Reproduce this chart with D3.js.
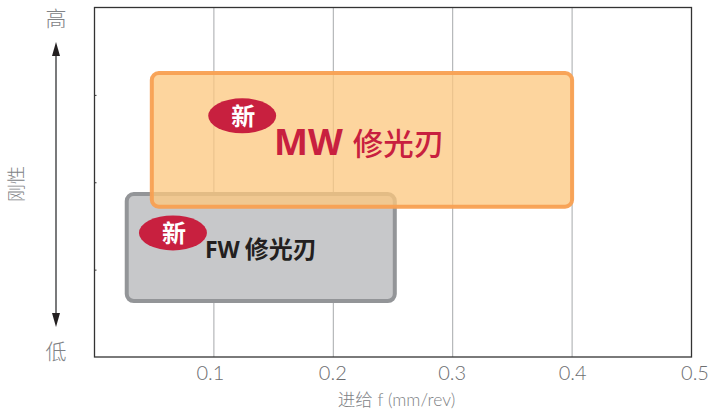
<!DOCTYPE html>
<html>
<head>
<meta charset="utf-8">
<script src="https://cdn.jsdelivr.net/npm/d3@7/dist/d3.min.js"></script>
<style>
html,body{margin:0;padding:0;background:#fff;overflow:hidden}
svg{display:block}
text{font-family:Lato,"Noto Sans CJK SC",sans-serif}
</style>
</head>
<body>
<svg id="chart" width="708" height="415"></svg>
<script>
// Feed ranges and relative rigidity of the two cutting-edge types
const feedTicks = [0.1, 0.2, 0.3, 0.4, 0.5];
const rigidityTicks = [1, 2, 3];
const edgeNames = ["MW 修光刃", "FW 修光刃"];
const feedStart = [0.048, 0.027];
const feedEnd = [0.4, 0.2515];
const rigidityLow = [1.72, 0.64];
const rigidityHigh = [3.25, 1.865];
const edgeFill = ["rgba(252,200,128,0.76)", "#c7c8ca"];
const edgeStroke = ["rgba(248,160,82,0.95)", "#939598"];

const svg = d3.select("#chart");
const x = d3.scaleLinear().domain([0, 0.5]).range([94.5, 691.5]);
const y = d3.scaleLinear().domain([0, 4]).range([357, 7.5]);

// Vertical gridlines, painted under the ranges
svg.append("g").selectAll("line").data(feedTicks.slice(0, 4)).join("line")
  .attr("x1", d => x(d)).attr("x2", d => x(d))
  .attr("y1", y(4)).attr("y2", y(0))
  .attr("stroke", "#a7a9ac").attr("stroke-width", 1);

// Frame and axes
svg.append("rect")
  .attr("x", x(0)).attr("y", y(4))
  .attr("width", x(0.5) - x(0)).attr("height", y(0) - y(4))
  .attr("fill", "none").attr("stroke", "#333").attr("stroke-width", 1.3);

// Tick labels sit slightly off their ticks, spreading outward toward the right edge
const labelNudge = [-4, -1, -1, 0, 3];
const xAxis = d3.axisBottom(x).tickValues(feedTicks).tickSize(0).tickPadding(0).tickFormat(d3.format(".1f"));
const gx = svg.append("g").attr("transform", `translate(0,${y(0)})`).call(xAxis);
gx.select(".domain").remove();
gx.selectAll("text")
  .attr("dx", (d, i) => labelNudge[i]).attr("y", 9).attr("dy", "0.71em")
  .attr("font-size", 20).attr("font-weight", 300).attr("fill", "#6d6e71")
  .style("font-family", "Lato,sans-serif");

const yAxis = d3.axisLeft(y).tickValues(rigidityTicks).tickSize(-2).tickFormat("");
const gy = svg.append("g").attr("transform", `translate(${x(0)},0)`).call(yAxis);
gy.select(".domain").remove();
gy.selectAll("line").attr("stroke", "#333");

// Range boxes; the grey one sits underneath
const order = [1, 0];
svg.append("g").selectAll("rect").data(order).join("rect")
  .attr("x", i => x(feedStart[i]))
  .attr("y", i => y(rigidityHigh[i]))
  .attr("width", i => x(feedEnd[i]) - x(feedStart[i]))
  .attr("height", i => y(rigidityLow[i]) - y(rigidityHigh[i]))
  .attr("rx", 7).attr("ry", 7)
  .attr("fill", i => edgeFill[i])
  .attr("stroke", i => edgeStroke[i])
  .attr("stroke-width", 4);

// "New" badges
const badgeFeed = [0.1237, 0.0657];
const badgeRigidity = [2.76, 1.42];
const badges = svg.append("g").selectAll("g").data([0, 1]).join("g")
  .attr("transform", i => `translate(${x(badgeFeed[i])},${y(badgeRigidity[i])})`);
badges.append("ellipse").attr("rx", 34).attr("ry", 17.5).attr("fill", "#c8203f");
badges.append("text").text("新")
  .attr("text-anchor", "middle").attr("x", 1).attr("y", 9)
  .attr("font-size", 24).attr("font-weight", 700).attr("fill", "#fff");

// Edge names
const mw = svg.append("text").attr("x", 274).attr("y", 155).attr("fill", "#c8203f");
mw.append("tspan").text(edgeNames[0].split(" ")[0])
  .attr("font-size", 36).attr("font-weight", 700)
  .style("font-family", "'Open Sans',sans-serif");
mw.append("tspan").text(edgeNames[0].split(" ")[1])
  .attr("dx", 10).attr("font-size", 30.5).attr("font-weight", 500)
  .style("font-family", "'Noto Sans CJK SC'");

const fw = svg.append("text").attr("x", 205).attr("y", 258).attr("fill", "#231f20");
fw.append("tspan").text(edgeNames[1].split(" ")[0])
  .attr("font-size", 23).attr("font-weight", 700)
  .style("font-family", "'Open Sans',sans-serif");
fw.append("tspan").text(edgeNames[1].split(" ")[1])
  .attr("dx", 5).attr("font-size", 24).attr("font-weight", 700)
  .style("font-family", "'Noto Sans CJK SC'");

// Low-to-high rigidity arrow
const arrowX = 56;
svg.append("line").attr("x1", arrowX).attr("x2", arrowX)
  .attr("y1", 52).attr("y2", 314)
  .attr("stroke", "#58595b").attr("stroke-width", 1.6);
svg.append("path")
  .attr("d", d3.line()([[arrowX, 42], [arrowX + 4, 56], [arrowX - 4, 56]]) + "Z")
  .attr("fill", "#231f20");
svg.append("path")
  .attr("d", d3.line()([[arrowX, 327], [arrowX + 4, 313], [arrowX - 4, 313]]) + "Z")
  .attr("fill", "#231f20");

// Axis captions
const captionGrey = "#808285";
const caption = (s, px, py, size) => svg.append("text").text(s)
  .attr("x", px).attr("y", py).attr("text-anchor", "middle")
  .attr("font-size", size).attr("font-weight", 300).attr("fill", captionGrey);
caption("高", 56, 26, 21);
caption("低", 56, 359, 21);
caption("进给 f (mm/rev)", 396.5, 406, 17.5);
svg.append("text").text("刚性")
  .attr("transform", "translate(23,184) rotate(-90)")
  .attr("text-anchor", "middle")
  .attr("font-size", 18).attr("font-weight", 300).attr("fill", captionGrey);
</script>
</body>
</html>
